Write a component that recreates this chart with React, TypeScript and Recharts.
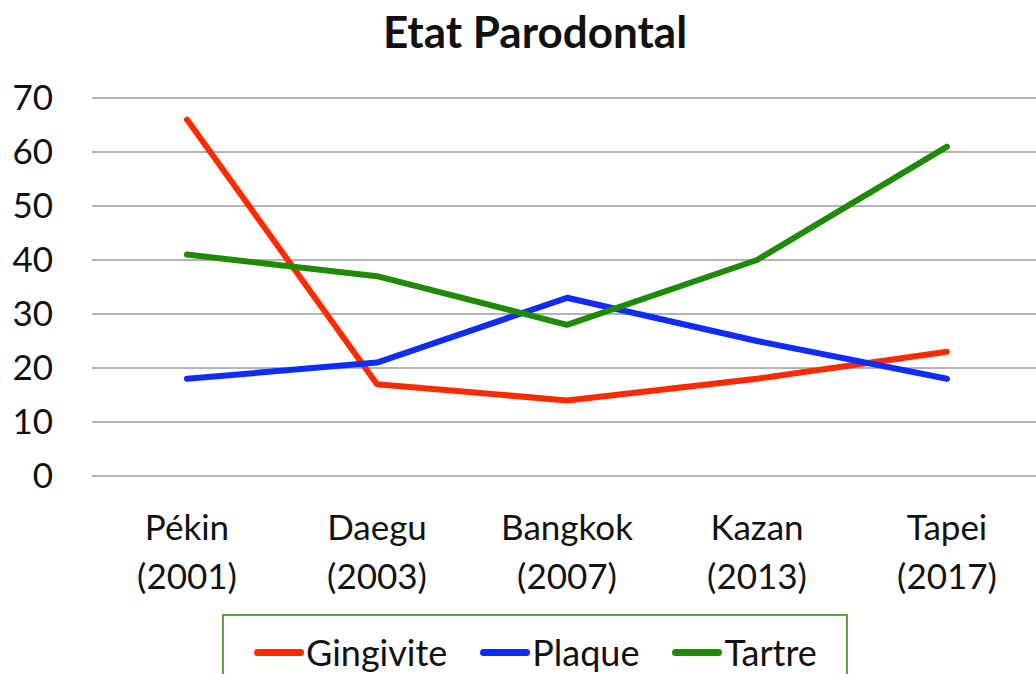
import { CartesianGrid, Legend, Line, LineChart, XAxis, YAxis } from "recharts";

// Periodontal state survey, one point per city/year.
const cities = ["Pékin", "Daegu", "Bangkok", "Kazan", "Tapei"];
const years = ["(2001)", "(2003)", "(2007)", "(2013)", "(2017)"];
const gingivite = [66, 17, 14, 18, 23];
const plaque = [18, 21, 33, 25, 18];
const tartre = [41, 37, 28, 40, 61];
const yTicks = [0, 10, 20, 30, 40, 50, 60, 70];

const series = [
  { key: "Gingivite", color: "#ff2a00" },
  { key: "Plaque", color: "#0f2bff" },
  { key: "Tartre", color: "#1f8a06" },
];

const data = cities.map((c, i) => ({
  city: c,
  year: years[i],
  Gingivite: gingivite[i],
  Plaque: plaque[i],
  Tartre: tartre[i],
}));

const FONT = "Lato, 'Open Sans', sans-serif";

function CityTick({ x, y, payload, index }: any) {
  return (
    <text x={x} y={y} textAnchor="middle" fill="#111" fontSize={35} fontFamily={FONT}>
      <tspan x={x} dy={64}>{payload.value}</tspan>
      <tspan x={x} dy={49}>{years[index]}</tspan>
    </text>
  );
}

function LegendBox() {
  return (
    <div
      style={{
        position: "absolute",
        left: 222,
        top: 614,
        width: 626,
        height: 90,
        border: "2px solid #5aa642",
        boxSizing: "border-box",
        display: "flex",
        alignItems: "flex-start",
        paddingTop: 14,
        paddingLeft: 30,
        gap: 33,
        fontFamily: FONT,
        fontSize: 36,
        color: "#111",
        background: "#fff",
      }}
    >
      {series.map((s) => (
        <div key={s.key} style={{ display: "flex", alignItems: "center" }}>
          <span
            style={{
              display: "inline-block",
              width: 50,
              height: 7,
              borderRadius: 4,
              background: s.color,
              marginRight: 2,
            }}
          />
          <span>{s.key}</span>
        </div>
      ))}
    </div>
  );
}

export default function App() {
  return (
    <div
      style={{
        position: "absolute",
        left: 0,
        top: 0,
        width: 1036,
        height: 674,
        overflow: "hidden",
        background: "#fff",
      }}
    >
      <div
        style={{
          position: "absolute",
          left: 0,
          width: 1070,
          top: 5,
          textAlign: "center",
          fontFamily: FONT,
          fontWeight: 700,
          fontSize: 44,
          color: "#111",
        }}
      >
        Etat Parodontal
      </div>
      <LineChart
        width={1060}
        height={674}
        data={data}
        margin={{ top: 98, right: 18, bottom: 98, left: 0 }}
      >
        <CartesianGrid vertical={false} stroke="#b3b3b3" strokeWidth={2} />
        <XAxis
          dataKey="city"
          axisLine={false}
          tickLine={false}
          tickSize={0}
          tickMargin={0}
          height={100}
          interval={0}
          padding={{ left: 95, right: 95 }}
          tick={<CityTick />}
        />
        <YAxis
          domain={[0, 70]}
          ticks={yTicks}
          axisLine={false}
          tickLine={false}
          tickSize={0}
          tickMargin={39}
          width={92}
          tick={{ fill: "#111", fontSize: 35, fontFamily: FONT }}
        />
        {series.map((s) => (
          <Line
            key={s.key}
            type="linear"
            dataKey={s.key}
            stroke={s.color}
            strokeWidth={6}
            strokeLinecap="round"
            strokeLinejoin="round"
            dot={false}
            activeDot={false}
            isAnimationActive={false}
          />
        ))}
        <Legend content={() => null} />
      </LineChart>
      <LegendBox />
    </div>
  );
}
